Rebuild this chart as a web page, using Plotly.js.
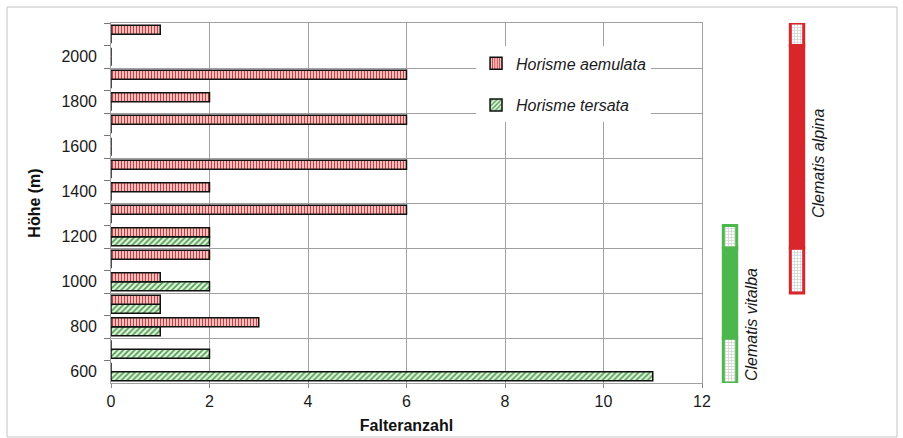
<!DOCTYPE html>
<html>
<head>
<meta charset="utf-8">
<script src="https://cdn.plot.ly/plotly-3.0.1.min.js"></script>
<style>html,body{margin:0;padding:0;background:#fff;}#chart{width:903px;height:438px;}</style>
</head>
<body>
<div id="chart"></div>
<script>
// ---- data ----
const altitudes = [600, 700, 800, 900, 1000, 1100, 1200, 1300, 1400, 1500, 1600, 1700, 1800, 1900, 2000, 2100];
const aemulata  = [0, 0, 3, 1, 1, 2, 2, 6, 2, 6, 0, 6, 2, 6, 0, 1];
const tersata   = [11, 2, 1, 1, 2, 0, 2, 0, 0, 0, 0, 0, 0, 0, 0, 0];
const seriesNames = ['Horisme aemulata', 'Horisme tersata'];

const yLabelVals = [600, 800, 1000, 1200, 1400, 1600, 1800, 2000];
const yLabelText = ['600', '800', '1000', '1200', '1400', '1600', '1800', '2000'];
const yBoundaryTicks = [650, 750, 850, 950, 1050, 1150, 1250, 1350, 1450, 1550, 1650, 1750, 1850, 1950, 2050, 2150];
const yGridVals = [750, 950, 1150, 1350, 1550, 1750, 1950];
const xTickVals = [0, 2, 4, 6, 8, 10, 12];

// host plant altitude ranges (segments)
const plantNames = ['Clematis vitalba', 'Clematis alpina'];
const vitalbaLow  = [550, 750, 1150];
const vitalbaHigh = [750, 1150, 1250];
const vitalbaKind = ['dotted', 'solid', 'dotted'];
const alpinaLow   = [950, 1150, 2050];
const alpinaHigh  = [1150, 2050, 2150];
const alpinaKind  = ['dotted', 'solid', 'dotted'];

// ---- build ----
const FONT = 'Liberation Sans, Arial, sans-serif';
const RED = '#d9262b', GREEN = '#4cb74c';

const traceTersata = {
  type: 'bar', orientation: 'h', name: seriesNames[1],
  y: altitudes, x: tersata, legendgroup: 'b', legendrank: 2,
  marker: {color: '#e2f3df', line: {color: '#111', width: 1.5},
    pattern: {shape: '/', fgcolor: '#4a9e4a', bgcolor: '#e2f3df', size: 4, solidity: 0.4}},
  hoverinfo: 'x+y'
};
const traceAemulata = {
  type: 'bar', orientation: 'h', name: seriesNames[0],
  y: altitudes, x: aemulata, legendgroup: 'a', legendrank: 1,
  marker: {color: '#f8dcdc', line: {color: '#111', width: 1.5},
    pattern: {shape: '|', fgcolor: '#d23a3a', bgcolor: '#f8dcdc', size: 3, solidity: 0.45}},
  hoverinfo: 'x+y'
};

const segX = [], segBase = [], segLen = [], segFill = [], segShape = [], segFg = [], segBg = [], segLine = [];
function addSegments(name, lows, highs, kinds, col) {
  for (let i = 0; i < lows.length; i++) {
    segX.push(name);
    segBase.push(lows[i]);
    segLen.push(highs[i] - lows[i]);
    const dotted = kinds[i] === 'dotted';
    segFill.push(dotted ? '#d0d0d0' : col);
    segShape.push(dotted ? '+' : '');
    segFg.push(dotted ? '#a6a6a6' : col);
    segBg.push(dotted ? '#dedede' : col);
    segLine.push(col);
  }
}
addSegments(plantNames[0], vitalbaLow, vitalbaHigh, vitalbaKind, GREEN);
addSegments(plantNames[1], alpinaLow, alpinaHigh, alpinaKind, RED);

const tracePlants = {
  type: 'bar', x: segX, y: segLen, base: segBase, xaxis: 'x2', yaxis: 'y5',
  width: 0.2, showlegend: false, hoverinfo: 'skip',
  marker: {color: segFill, line: {color: segLine, width: 3},
    pattern: {shape: segShape, fgcolor: segFg, bgcolor: segBg, size: 3, solidity: 0.4}}
};

// empty helper traces so that the label axis and the grid axis are drawn (no marks)
const axisLabelHolder = {type: 'scatter', x: [], y: [], yaxis: 'y2', showlegend: false, hoverinfo: 'skip'};
const axisGridHolder  = {type: 'scatter', x: [], y: [], yaxis: 'y3', showlegend: false, hoverinfo: 'skip'};

const yRange = [550, 2150];
const gridCol = '#a0a0a0';

const layout = {
  width: 903, height: 438,
  margin: {l: 111, r: 73, t: 23, b: 55},
  paper_bgcolor: '#ffffff', plot_bgcolor: '#ffffff',
  font: {family: FONT, size: 16, color: '#1a1a1a'},
  barmode: 'group', bargap: 0.2, bargroupgap: 0,
  showlegend: true,
  legend: {x: 0.5077, y: 0.935, xanchor: 'left', yanchor: 'top', bgcolor: '#ffffff', borderwidth: 0,
    traceorder: 'grouped', tracegroupgap: 18, entrywidth: 160, entrywidthmode: 'pixels',
    font: {family: FONT, size: 16, style: 'italic', color: '#1a1a1a'}},
  xaxis: {domain: [0, 0.82197], range: [0, 12], tickmode: 'array', tickvals: xTickVals,
    showgrid: true, gridcolor: gridCol, gridwidth: 1, zeroline: false,
    showline: true, linecolor: gridCol, linewidth: 1, mirror: true,
    ticks: 'outside', ticklen: 4, tickcolor: '#888',
    tickfont: {family: FONT, size: 16, color: '#1a1a1a'},
    title: {text: '<b>Falteranzahl</b>', font: {family: FONT, size: 16, color: '#111'}, standoff: 10}},
  yaxis: {range: yRange, anchor: 'x', tickmode: 'array', tickvals: yBoundaryTicks,
    showticklabels: false, ticks: 'outside', ticklen: 6, tickcolor: '#777', tickwidth: 1,
    showgrid: false, zeroline: false,
    showline: true, linecolor: gridCol, linewidth: 1, mirror: true},
  yaxis2: {range: yRange, overlaying: 'y', anchor: 'x', side: 'left', tickmode: 'array',
    tickvals: yLabelVals, ticktext: yLabelText, ticks: '',
    ticklabelstandoff: 13,
    showgrid: false, zeroline: false, showline: false,
    tickfont: {family: FONT, size: 16, color: '#1a1a1a'},
    title: {text: '<b>Höhe (m)</b>', font: {family: FONT, size: 16, color: '#111'}, standoff: 16}},
  yaxis3: {range: yRange, overlaying: 'y', anchor: 'x', side: 'left', tickmode: 'array',
    tickvals: yGridVals, showticklabels: false, ticks: '',
    showgrid: true, gridcolor: gridCol, gridwidth: 1, zeroline: false, showline: false},
  xaxis2: {domain: [0.8359, 1], range: [-0.2687, 1.4925], anchor: 'y5', visible: false,
    type: 'category', categoryorder: 'array', categoryarray: plantNames},
  yaxis5: {domain: [0, 1], range: yRange, anchor: 'x2', visible: false},
  annotations: [
    {text: '<i>' + plantNames[0] + '</i>', xref: 'paper', yref: 'paper', x: 0.8915, y: 0.1639,
     textangle: -90, showarrow: false, xanchor: 'center', yanchor: 'middle',
     font: {family: FONT, size: 16, color: '#1a1a1a'}},
    {text: '<i>' + plantNames[1] + '</i>', xref: 'paper', yref: 'paper', x: 0.9833, y: 0.6111,
     textangle: -90, showarrow: false, xanchor: 'center', yanchor: 'middle',
     font: {family: FONT, size: 16, color: '#1a1a1a'}}
  ],
  shapes: [
    {type: 'rect', xref: 'paper', yref: 'paper', x0: -0.1446, x1: 1.0932, y0: -0.15, y1: 1.0444,
     line: {color: '#c4c4c4', width: 1}, layer: 'below'}
  ]
};

Plotly.newPlot('chart', [traceTersata, traceAemulata, axisLabelHolder, axisGridHolder, tracePlants], layout,
  {displayModeBar: false, staticPlot: true});
</script>
</body>
</html>
